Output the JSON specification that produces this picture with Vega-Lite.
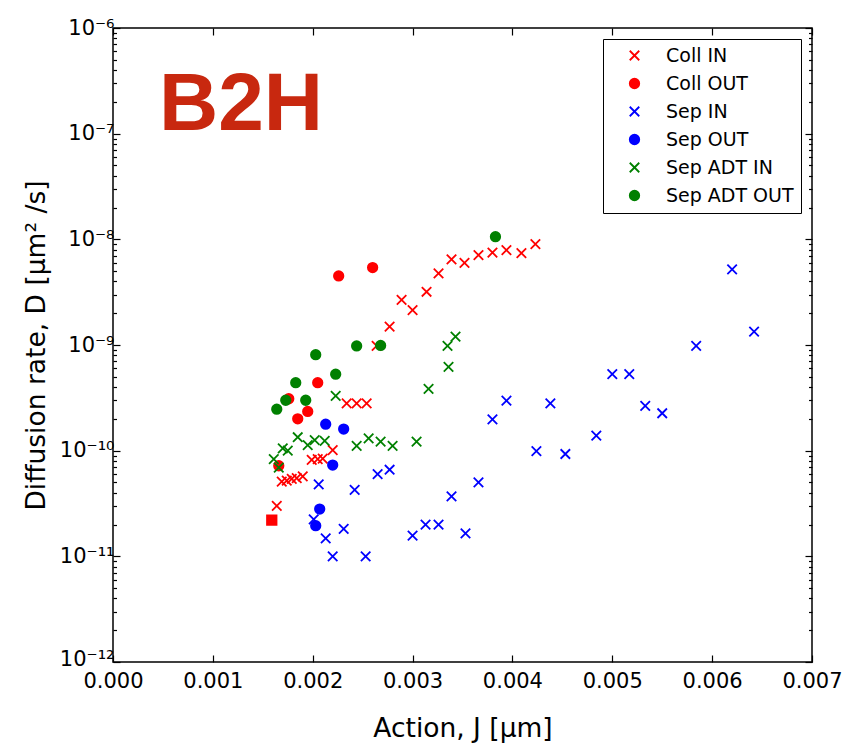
{
  "$schema": "https://vega.github.io/schema/vega-lite/v6.json",
  "width": 699,
  "height": 634,
  "autosize": "none",
  "padding": {"left": 113, "top": 28, "right": 36, "bottom": 87},
  "background": "white",
  "config": {
    "font": "DejaVu Sans",
    "view": {"stroke": "black", "strokeWidth": 1.5},
    "legend": {
      "title": null,
      "orient": "none",
      "legendX": 490,
      "legendY": 11,
      "labelFont": "DejaVu Sans",
      "labelFontSize": 19,
      "labelColor": "black",
      "padding": 7,
      "rowPadding": 8,
      "strokeColor": "black",
      "fillColor": "white",
      "symbolSize": 90,
      "symbolStrokeWidth": 1.8,
      "symbolOffset": 15,
      "labelOffset": 22
    }
  },
  "title": {
    "text": "B2H",
    "anchor": "start",
    "frame": "group",
    "orient": "top",
    "offset": 0,
    "dx": 46,
    "dy": 195,
    "baseline": "alphabetic",
    "font": "Liberation Sans",
    "fontSize": 82,
    "fontWeight": "bold",
    "color": "#C8280F"
  },
  "data": {
    "values": [
      {"series": "Coll IN", "J": 0.00164, "D": 3.0e-11},
      {"series": "Coll IN", "J": 0.00169, "D": 5.1e-11},
      {"series": "Coll IN", "J": 0.00174, "D": 5.2e-11},
      {"series": "Coll IN", "J": 0.00179, "D": 5.4e-11},
      {"series": "Coll IN", "J": 0.00184, "D": 5.5e-11},
      {"series": "Coll IN", "J": 0.0019, "D": 5.7e-11},
      {"series": "Coll IN", "J": 0.00199, "D": 8.2e-11},
      {"series": "Coll IN", "J": 0.00205, "D": 8.3e-11},
      {"series": "Coll IN", "J": 0.0021, "D": 8.4e-11},
      {"series": "Coll IN", "J": 0.0022, "D": 1.01e-10},
      {"series": "Coll IN", "J": 0.00234, "D": 2.8e-10},
      {"series": "Coll IN", "J": 0.00244, "D": 2.8e-10},
      {"series": "Coll IN", "J": 0.00254, "D": 2.8e-10},
      {"series": "Coll IN", "J": 0.00264, "D": 9.8e-10},
      {"series": "Coll IN", "J": 0.00277, "D": 1.49e-9},
      {"series": "Coll IN", "J": 0.00289, "D": 2.67e-9},
      {"series": "Coll IN", "J": 0.003, "D": 2.14e-9},
      {"series": "Coll IN", "J": 0.00314, "D": 3.19e-9},
      {"series": "Coll IN", "J": 0.00326, "D": 4.77e-9},
      {"series": "Coll IN", "J": 0.00339, "D": 6.47e-9},
      {"series": "Coll IN", "J": 0.00352, "D": 6.0e-9},
      {"series": "Coll IN", "J": 0.00366, "D": 7.1e-9},
      {"series": "Coll IN", "J": 0.0038, "D": 7.5e-9},
      {"series": "Coll IN", "J": 0.00394, "D": 7.9e-9},
      {"series": "Coll IN", "J": 0.00409, "D": 7.4e-9},
      {"series": "Coll IN", "J": 0.00423, "D": 9.0e-9},
      {"series": "Coll OUT", "J": 0.00226, "D": 4.5e-9},
      {"series": "Coll OUT", "J": 0.0026, "D": 5.4e-9},
      {"series": "Coll OUT", "J": 0.00205, "D": 4.4e-10},
      {"series": "Coll OUT", "J": 0.00195, "D": 2.35e-10},
      {"series": "Coll OUT", "J": 0.00185, "D": 2.0e-10},
      {"series": "Coll OUT", "J": 0.00176, "D": 3.1e-10},
      {"series": "Coll OUT", "J": 0.00166, "D": 7.2e-11},
      {"series": "Coll OUT sq", "J": 0.00159, "D": 2.2e-11},
      {"series": "Sep IN", "J": 0.0038, "D": 1.98e-10},
      {"series": "Sep IN", "J": 0.00366, "D": 5.0e-11},
      {"series": "Sep IN", "J": 0.00339, "D": 3.7e-11},
      {"series": "Sep IN", "J": 0.00353, "D": 1.65e-11},
      {"series": "Sep IN", "J": 0.00313, "D": 2.0e-11},
      {"series": "Sep IN", "J": 0.00326, "D": 2.0e-11},
      {"series": "Sep IN", "J": 0.003, "D": 1.57e-11},
      {"series": "Sep IN", "J": 0.00277, "D": 6.6e-11},
      {"series": "Sep IN", "J": 0.00265, "D": 6.0e-11},
      {"series": "Sep IN", "J": 0.00242, "D": 4.25e-11},
      {"series": "Sep IN", "J": 0.00206, "D": 4.8e-11},
      {"series": "Sep IN", "J": 0.00231, "D": 1.82e-11},
      {"series": "Sep IN", "J": 0.00213, "D": 1.48e-11},
      {"series": "Sep IN", "J": 0.0022, "D": 1.0e-11},
      {"series": "Sep IN", "J": 0.00253, "D": 1.0e-11},
      {"series": "Sep IN", "J": 0.00201, "D": 2.24e-11},
      {"series": "Sep IN", "J": 0.0062, "D": 5.2e-9},
      {"series": "Sep IN", "J": 0.00642, "D": 1.34e-9},
      {"series": "Sep IN", "J": 0.00584, "D": 9.8e-10},
      {"series": "Sep IN", "J": 0.005, "D": 5.3e-10},
      {"series": "Sep IN", "J": 0.00517, "D": 5.3e-10},
      {"series": "Sep IN", "J": 0.00533, "D": 2.65e-10},
      {"series": "Sep IN", "J": 0.0055, "D": 2.26e-10},
      {"series": "Sep IN", "J": 0.00394, "D": 2.97e-10},
      {"series": "Sep IN", "J": 0.00438, "D": 2.8e-10},
      {"series": "Sep IN", "J": 0.00484, "D": 1.39e-10},
      {"series": "Sep IN", "J": 0.00424, "D": 9.9e-11},
      {"series": "Sep IN", "J": 0.00453, "D": 9.3e-11},
      {"series": "Sep OUT", "J": 0.00213, "D": 1.78e-10},
      {"series": "Sep OUT", "J": 0.00231, "D": 1.6e-10},
      {"series": "Sep OUT", "J": 0.0022, "D": 7.3e-11},
      {"series": "Sep OUT", "J": 0.00207, "D": 2.8e-11},
      {"series": "Sep OUT", "J": 0.00203, "D": 1.95e-11},
      {"series": "Sep ADT IN", "J": 0.00343, "D": 1.2e-9},
      {"series": "Sep ADT IN", "J": 0.00335, "D": 9.8e-10},
      {"series": "Sep ADT IN", "J": 0.00336, "D": 6.2e-10},
      {"series": "Sep ADT IN", "J": 0.00316, "D": 3.85e-10},
      {"series": "Sep ADT IN", "J": 0.00223, "D": 3.3e-10},
      {"series": "Sep ADT IN", "J": 0.00185, "D": 1.34e-10},
      {"series": "Sep ADT IN", "J": 0.00195, "D": 1.13e-10},
      {"series": "Sep ADT IN", "J": 0.00202, "D": 1.26e-10},
      {"series": "Sep ADT IN", "J": 0.00212, "D": 1.24e-10},
      {"series": "Sep ADT IN", "J": 0.00244, "D": 1.11e-10},
      {"series": "Sep ADT IN", "J": 0.00256, "D": 1.31e-10},
      {"series": "Sep ADT IN", "J": 0.00268, "D": 1.22e-10},
      {"series": "Sep ADT IN", "J": 0.0028, "D": 1.11e-10},
      {"series": "Sep ADT IN", "J": 0.00304, "D": 1.22e-10},
      {"series": "Sep ADT IN", "J": 0.0017, "D": 1.05e-10},
      {"series": "Sep ADT IN", "J": 0.00175, "D": 1.0e-10},
      {"series": "Sep ADT IN", "J": 0.00161, "D": 8.3e-11},
      {"series": "Sep ADT IN", "J": 0.00166, "D": 6.9e-11},
      {"series": "Sep ADT OUT", "J": 0.00383, "D": 1.06e-8},
      {"series": "Sep ADT OUT", "J": 0.00244, "D": 9.8e-10},
      {"series": "Sep ADT OUT", "J": 0.00268, "D": 9.9e-10},
      {"series": "Sep ADT OUT", "J": 0.00203, "D": 8.1e-10},
      {"series": "Sep ADT OUT", "J": 0.00223, "D": 5.3e-10},
      {"series": "Sep ADT OUT", "J": 0.00183, "D": 4.4e-10},
      {"series": "Sep ADT OUT", "J": 0.00173, "D": 3.0e-10},
      {"series": "Sep ADT OUT", "J": 0.00193, "D": 3.0e-10},
      {"series": "Sep ADT OUT", "J": 0.00164, "D": 2.47e-10}
    ]
  },
  "resolve": {"axis": {"x": "independent", "y": "independent"}},
  "layer": [
    {
      "mark": {"type": "point", "filled": true, "strokeWidth": 1.8, "opacity": 1},
      "encoding": {
        "x": {
          "field": "J",
          "type": "quantitative",
          "scale": {"domain": [0, 0.007], "nice": false, "zero": false},
          "axis": {
            "orient": "bottom",
            "values": [0, 0.001, 0.002, 0.003, 0.004, 0.005, 0.006, 0.007],
            "format": ".3f",
            "domain": false,
            "grid": false,
            "tickSize": -7,
            "tickColor": "black",
            "tickWidth": 1.2,
            "labelFont": "DejaVu Sans",
            "labelFontSize": 21,
            "labelColor": "black",
            "labelPadding": 15,
            "labelFlush": false,
            "labelOverlap": false,
            "title": "Action, J [μm]",
            "titleFont": "DejaVu Sans",
            "titleFontSize": 26.5,
            "titleFontWeight": "normal",
            "titleColor": "black",
            "titlePadding": 24
          }
        },
        "y": {
          "field": "D",
          "type": "quantitative",
          "scale": {"type": "log", "domain": [1e-12, 1e-6], "nice": false},
          "axis": {
            "orient": "left",
            "values": [1e-12, 2e-12, 3e-12, 4e-12, 5e-12, 6e-12, 7e-12, 8e-12, 9e-12, 1e-11, 2e-11, 3e-11, 4e-11, 5e-11, 6e-11, 7e-11, 8e-11, 9e-11, 1e-10, 2e-10, 3e-10, 4e-10, 5e-10, 6e-10, 7e-10, 8e-10, 9e-10, 1e-9, 2e-9, 3e-9, 4e-9, 5e-9, 6e-9, 7e-9, 8e-9, 9e-9, 1e-8, 2e-8, 3e-8, 4e-8, 5e-8, 6e-8, 7e-8, 8e-8, 9e-8, 1e-7, 2e-7, 3e-7, 4e-7, 5e-7, 6e-7, 7e-7, 8e-7, 9e-7, 1e-6],
            "labelExpr": "abs(log(datum.value)/LN10 - round(log(datum.value)/LN10)) > 0.01 ? '' : ['10⁻¹²','10⁻¹¹','10⁻¹⁰','10⁻⁹','10⁻⁸','10⁻⁷','10⁻⁶'][round(log(datum.value)/LN10)+12]",
            "labelOffset": {"condition": {"test": "datum.value < 1.5e-12", "value": -3}, "value": 0},
            "domain": false,
            "grid": false,
            "tickSize": {"condition": {"test": "abs(log(datum.value)/LN10 - round(log(datum.value)/LN10)) < 0.01", "value": -7}, "value": -3.5},
            "tickColor": "black",
            "tickWidth": 1.2,
            "labelFont": "DejaVu Sans",
            "labelFontSize": 21,
            "labelColor": "black",
            "labelPadding": 6,
            "labelFlush": false,
            "labelOverlap": false,
            "labelBound": false,
            "title": "Diffusion rate, D [μm² /s]",
            "titleFont": "DejaVu Sans",
            "titleFontSize": 26.5,
            "titleFontWeight": "normal",
            "titleColor": "black",
            "titlePadding": 9
          }
        },
        "color": {
          "field": "series",
          "type": "nominal",
          "scale": {
            "domain": ["Coll IN", "Coll OUT", "Sep IN", "Sep OUT", "Sep ADT IN", "Sep ADT OUT", "Coll OUT sq"],
            "range": ["#FF0000", "#FF0000", "#0000FF", "#0000FF", "#008000", "#008000", "#FF0000"]
          },
          "legend": {"values": ["Coll IN", "Coll OUT", "Sep IN", "Sep OUT", "Sep ADT IN", "Sep ADT OUT"]}
        },
        "stroke": {
          "field": "series",
          "type": "nominal",
          "scale": {
            "domain": ["Coll IN", "Coll OUT", "Sep IN", "Sep OUT", "Sep ADT IN", "Sep ADT OUT", "Coll OUT sq"],
            "range": ["#FF0000", "#FF0000", "#0000FF", "#0000FF", "#008000", "#008000", "#FF0000"]
          },
          "legend": {"values": ["Coll IN", "Coll OUT", "Sep IN", "Sep OUT", "Sep ADT IN", "Sep ADT OUT"]}
        },
        "shape": {
          "field": "series",
          "type": "nominal",
          "scale": {
            "domain": ["Coll IN", "Coll OUT", "Sep IN", "Sep OUT", "Sep ADT IN", "Sep ADT OUT", "Coll OUT sq"],
            "range": ["M-1,-1L1,1M-1,1L1,-1", "circle", "M-1,-1L1,1M-1,1L1,-1", "circle", "M-1,-1L1,1M-1,1L1,-1", "circle", "square"]
          },
          "legend": {"values": ["Coll IN", "Coll OUT", "Sep IN", "Sep OUT", "Sep ADT IN", "Sep ADT OUT"]}
        },
        "size": {"value": 90}
      }
    },
    {
      "data": {"values": []},
      "mark": {"type": "point", "opacity": 0},
      "encoding": {
        "x": {
          "field": "J",
          "type": "quantitative",
          "axis": {
            "orient": "top",
            "values": [0, 0.001, 0.002, 0.003, 0.004, 0.005, 0.006, 0.007],
            "labels": false,
            "domain": false,
            "grid": false,
            "tickSize": -7,
            "tickColor": "black",
            "tickWidth": 1.2,
            "title": null
          }
        },
        "y": {
          "field": "D",
          "type": "quantitative",
          "axis": {
            "orient": "right",
            "values": [1e-12, 2e-12, 3e-12, 4e-12, 5e-12, 6e-12, 7e-12, 8e-12, 9e-12, 1e-11, 2e-11, 3e-11, 4e-11, 5e-11, 6e-11, 7e-11, 8e-11, 9e-11, 1e-10, 2e-10, 3e-10, 4e-10, 5e-10, 6e-10, 7e-10, 8e-10, 9e-10, 1e-9, 2e-9, 3e-9, 4e-9, 5e-9, 6e-9, 7e-9, 8e-9, 9e-9, 1e-8, 2e-8, 3e-8, 4e-8, 5e-8, 6e-8, 7e-8, 8e-8, 9e-8, 1e-7, 2e-7, 3e-7, 4e-7, 5e-7, 6e-7, 7e-7, 8e-7, 9e-7, 1e-6],
            "labels": false,
            "domain": false,
            "grid": false,
            "tickSize": {"condition": {"test": "abs(log(datum.value)/LN10 - round(log(datum.value)/LN10)) < 0.01", "value": -7}, "value": -3.5},
            "tickColor": "black",
            "tickWidth": 1.2,
            "title": null
          }
        }
      }
    }
  ]
}
